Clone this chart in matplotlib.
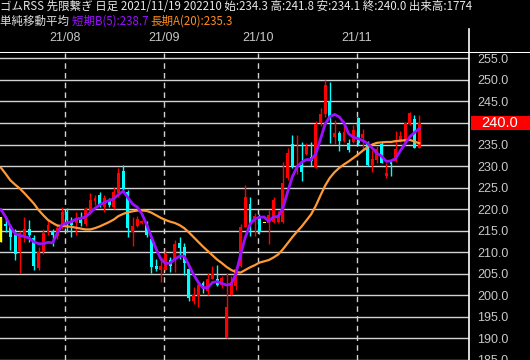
import matplotlib
matplotlib.use('Agg')
import matplotlib.pyplot as plt
import numpy as np

plt.rcParams['font.family'] = ['Noto Sans CJK JP', 'DejaVu Sans']

# daily candles, index -1 is the highlighted (yellow) one at the left edge
opens = [218.3,
         216.6, 216.0, 214.0, 210.2, 213.7, 215.5, 213.4, 206.4, 210.0, 214.6,
         215.0, 213.7, 216.4, 219.4, 217.0, 216.9, 217.6, 216.6, 219.4, 222.0,
         223.2, 220.6, 222.2, 220.6, 223.8, 228.9, 224.0, 214.6, 216.2, 216.9,
         216.9, 213.0, 206.7, 206.0, 205.8, 208.3, 208.3, 212.2, 211.3, 206.2,
         198.8, 199.8, 202.8, 200.9, 203.9, 203.9, 202.5, 190.0, 200.2, 202.1,
         206.9, 215.9, 221.1, 217.1, 218.5, 216.7, 216.7, 217.1, 217.1, 217.1,
         227.3, 235.2, 229.4, 230.3, 232.9, 232.2, 229.8, 240.0, 242.1, 245.1,
         236.8, 237.7, 235.9, 235.4, 235.6, 241.2, 236.6, 235.4, 230.3, 231.5,
         235.2, 227.6, 231.0, 231.2, 236.1, 235.4, 239.8, 241.0, 234.3]
highs = [218.3,
         218.3, 216.5, 215.3, 215.0, 218.3, 217.6, 214.1, 211.3, 215.5, 217.8,
         215.5, 216.5, 220.5, 220.3, 218.3, 219.4, 219.4, 220.5, 223.8, 223.3,
         224.0, 223.2, 222.7, 225.2, 229.5, 230.3, 224.5, 218.3, 218.5, 217.6,
         217.2, 213.8, 208.5, 209.0, 210.7, 209.0, 212.9, 213.5, 212.2, 207.0,
         202.0, 203.0, 203.3, 205.3, 206.9, 207.1, 204.5, 205.3, 204.5, 206.7,
         216.5, 225.7, 222.9, 219.2, 219.0, 216.7, 219.9, 222.9, 219.5, 231.0,
         234.3, 237.3, 237.3, 235.6, 235.3, 235.6, 240.5, 243.5, 250.0, 249.5,
         240.7, 238.2, 240.5, 236.2, 239.5, 241.5, 238.5, 235.8, 233.8, 234.6,
         235.8, 230.8, 231.0, 238.2, 238.2, 240.2, 242.6, 241.8, 241.8]
lows = [212.3,
        214.8, 210.6, 208.3, 205.3, 212.5, 212.5, 206.0, 205.8, 209.5, 214.0,
        211.5, 213.0, 215.5, 214.6, 213.5, 214.0, 216.0, 216.0, 219.0, 221.0,
        220.6, 219.4, 220.5, 220.0, 222.9, 224.0, 213.6, 211.5, 215.8, 216.5,
        213.5, 205.3, 205.7, 203.0, 205.6, 205.5, 205.5, 208.5, 204.8, 198.8,
        197.9, 197.4, 200.5, 200.0, 203.7, 202.1, 201.7, 190.0, 200.0, 201.3,
        206.5, 215.9, 213.8, 213.8, 214.2, 216.7, 212.0, 216.9, 216.8, 216.7,
        226.8, 229.6, 228.2, 226.6, 232.5, 230.1, 229.6, 239.4, 241.4, 235.4,
        235.2, 233.4, 235.5, 233.2, 235.3, 234.8, 233.8, 230.0, 228.7, 230.8,
        230.7, 227.2, 227.7, 231.0, 235.5, 235.0, 239.6, 234.3, 234.1]
closes = [212.3,
          216.0, 213.6, 209.5, 214.5, 215.3, 214.1, 206.7, 210.0, 214.5, 216.4,
          213.9, 215.7, 219.4, 217.6, 216.4, 217.6, 216.9, 220.1, 222.2, 222.5,
          220.9, 222.7, 221.0, 224.0, 228.5, 224.8, 215.7, 216.2, 217.8, 217.3,
          213.9, 206.5, 206.2, 206.9, 209.5, 206.9, 212.0, 210.9, 207.6, 199.5,
          200.0, 202.3, 201.4, 203.9, 205.0, 202.5, 204.1, 197.2, 203.0, 206.2,
          215.9, 222.9, 215.9, 218.5, 214.6, 216.7, 218.7, 222.2, 218.7, 226.1,
          233.1, 230.1, 230.3, 228.7, 234.7, 231.2, 239.8, 242.1, 248.8, 241.2,
          237.7, 235.9, 238.0, 233.8, 238.4, 235.4, 237.5, 230.3, 231.7, 234.0,
          230.8, 228.5, 230.5, 234.0, 237.0, 240.0, 242.4, 234.3, 240.0]

# moving averages (index -1..88)
sma5 = [219.9,
        218.2, 216.0, 214.3, 213.9, 213.7, 213.3, 212.4, 212.0, 212.0, 212.3,
        212.2, 214.5, 216.4, 216.8, 217.1, 217.7, 217.9, 218.2, 219.2, 220.2,
        221.0, 221.6, 222.0, 222.4, 223.4, 224.2, 222.7, 221.2, 220.5, 218.9,
        216.4, 213.6, 210.8, 208.5, 207.4, 207.5, 208.4, 209.1, 209.1, 207.0,
        204.8, 203.0, 201.8, 201.8, 203.0, 203.2, 202.8, 202.4, 202.6, 205.0,
        209.5, 213.5, 216.5, 217.8, 218.1, 218.2, 217.2, 218.2, 218.3, 220.3,
        224.0, 227.5, 229.8, 230.9, 231.5, 231.5, 232.8, 236.3, 239.8, 241.5,
        242.0, 241.4, 240.0, 237.5, 236.7, 236.4, 235.9, 235.3, 234.2, 233.0,
        232.3, 231.1, 231.2, 231.8, 233.6, 235.2, 236.8, 237.8, 238.7]
sma20 = [229.6,
         228.2, 226.7, 225.7, 224.8, 223.7, 222.5, 221.3, 219.8, 218.6, 217.5,
         216.8, 216.2, 216.1, 216.0, 215.9, 215.7, 215.5, 215.3, 215.3, 215.6,
         216.0, 216.5, 217.0, 217.6, 218.4, 218.9, 219.3, 219.5, 219.7, 219.7,
         219.6, 219.2, 218.6, 218.0, 217.5, 217.1, 216.8, 216.3, 215.6, 214.6,
         213.5, 212.4, 211.3, 210.3, 209.3, 208.3, 207.5, 206.6, 205.9, 205.4,
         205.3, 205.9, 206.5, 207.0, 207.6, 207.9, 208.2, 208.8, 209.5, 210.7,
         212.1, 213.5, 214.8, 216.0, 217.4, 218.8, 220.8, 223.2, 225.5, 227.3,
         228.6, 229.6, 230.4, 231.1, 231.9, 232.7, 233.6, 234.4, 235.0, 235.4,
         235.5, 235.6, 235.6, 235.8, 235.9, 236.0, 236.1, 235.7, 235.3]

month_labels = ['21/08', '21/09', '21/10', '21/11']
month_start = [13, 34, 54, 75]
price_ticks = [185, 190, 195, 200, 205, 210, 215, 220, 225, 230, 235, 240, 245, 250, 255]
last_price = 240.0

header1 = 'ゴムRSS 先限繋ぎ 日足 2021/11/19 202210 始:234.3 高:241.8 安:234.1 終:240.0 出来高:1774'
header2_parts = [('単純移動平均 ', '#e0e0e0'), ('短期B(5):238.7 ', '#9b10ff'), ('長期A(20):235.3', '#ff8c1a')]

W, H = 530, 360
y0, y1 = 185.14, 256.25
fig = plt.figure(figsize=(W / 100, H / 100), dpi=100, facecolor='black')
ax = fig.add_axes([0, 0, 469 / W, (H - 53) / H], facecolor='black')

grid_col = '#d2d2d2'
for p in price_ticks:
    ax.axhline(p, color=grid_col, lw=1, zorder=1)
for m in month_start:
    ax.axvline(m - 0.3, color=grid_col, lw=1, ls=(0, (4, 3)), zorder=1)

x = np.arange(-1, len(opens) - 1)
o = np.array(opens)
c = np.array(closes)
hi = np.array(highs)
lo = np.array(lows)
cols = np.where(c > o, '#ff0000', np.where(c < o, '#00ffff', '#ffff00'))
cols[0] = '#ffff00'

ax.vlines(x, lo, hi, colors=cols, lw=1, zorder=2)
body_h = np.abs(c - o)
ax.bar(x, np.maximum(body_h, 0.35), bottom=np.minimum(o, c), width=0.62,
       color=cols, linewidth=0, zorder=3)

xm = np.arange(-1, len(sma5) - 1)
ax.plot(xm, sma20, color='#ff9933', lw=1.6, zorder=4)
ax.plot(xm, sma5, color='#9b10ff', lw=2.0, zorder=5)

ax.set_xlim(-1.21, 98.6)
ax.set_ylim(y0, y1)
ax.set_xticks([])
ax.yaxis.tick_right()
ax.set_yticks(price_ticks)
ax.set_yticklabels(['' if p == last_price else '%.1f' % p for p in price_ticks])
ax.tick_params(axis='y', length=0, pad=6, labelsize=9, labelcolor='#c8c8c8')
for lab in ax.get_yticklabels():
    lab.set_family(['Liberation Sans', 'DejaVu Sans'])
for s in ax.spines.values():
    s.set_visible(False)

# current price tag
tag_y = (last_price - y0) / (y1 - y0) * (H - 53) / H
fig.add_artist(plt.Rectangle((470.5 / W, tag_y - 7 / H), 59.5 / W, 14 / H,
                             transform=fig.transFigure, fc='#ff0000', ec='none', zorder=5))
fig.text(500 / W, tag_y, '%.1f' % last_price, ha='center', va='center', fontsize=10.5,
         color='white', family=['Liberation Sans', 'DejaVu Sans'], zorder=6)

# header band
top = fig.add_axes([0, (H - 53) / H, 1, 53 / H], facecolor='black')
top.set_xlim(0, W)
top.set_ylim(53, 0)
top.axis('off')
top.plot([0, W], [52.5, 52.5], color='white', lw=2.2)
top.plot([469, 469], [29, 53], color='white', lw=1.2)
fig.add_artist(plt.Line2D([469 / W, 469 / W], [0, (H - 53) / H], color='white', lw=1.2))

for lab, m in zip(month_labels, month_start):
    px = 5.7 + 4.7 * (m - 0.3)
    top.text(px, 38, lab, ha='center', va='center', fontsize=9, color='#c8c8c8',
             family=['Liberation Sans', 'DejaVu Sans'])

top.text(0, 7, header1, ha='left', va='center', fontsize=8.25, color='#e8e8e8')
xpos = 0
r = fig.canvas.get_renderer()
for txt, col in header2_parts:
    t = top.text(xpos, 21, txt, ha='left', va='center', fontsize=8.25, color=col)
    bb = t.get_window_extent(renderer=r)
    xpos += bb.width

fig.savefig('out.png', dpi=100, facecolor='black')
